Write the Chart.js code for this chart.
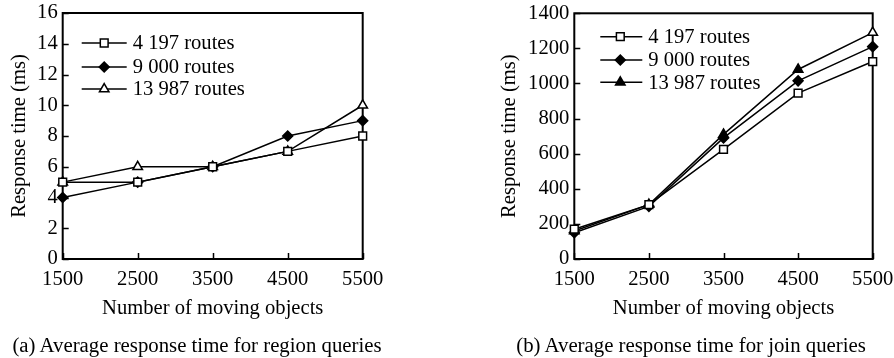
<!DOCTYPE html>
<html>
<head>
<meta charset="utf-8">
<script src="https://cdn.jsdelivr.net/npm/chart.js@4.4.1/dist/chart.umd.min.js"></script>
<style>
    html, body { margin: 0; padding: 0; background: #fff; }
    body { width: 894px; height: 358px; position: relative; overflow: hidden; font-family: 'Liberation Serif', 'Times New Roman', serif; color: #000; }
    .panel { position: absolute; top: 0; width: 447px; height: 358px; }
    .panel canvas { display: block; }
    .caption { position: absolute; top: 333px; font-size: 20.8px; line-height: 24px; white-space: nowrap; transform: translateX(-50%); }
</style>
</head>
<body>
<div class="panel" style="left:0"><canvas id="region-chart" width="447" height="358"></canvas></div>
<div class="panel" style="left:447px"><canvas id="join-chart" width="447" height="358"></canvas></div>
<div class="caption" style="left:197px">(a) Average response time for region queries</div>
<div class="caption" style="left:691px">(b) Average response time for join queries</div>

<script>
// data
const objectCounts = ['1500', '2500', '3500', '4500', '5500'];
const routeLabels = ['4 197 routes', '9 000 routes', '13 987 routes'];

const regionRoutes4197 = [5, 5, 6, 7, 8];
const regionRoutes9000 = [4, 5, 6, 8, 9];
const regionRoutes13987 = [5, 6, 6, 7, 10];
const regionTicks = [0, 2, 4, 6, 8, 10, 12, 14, 16];

const joinRoutes4197 = [170, 310, 625, 945, 1125];
const joinRoutes9000 = [150, 300, 690, 1015, 1210];
const joinRoutes13987 = [160, 310, 710, 1080, 1290];
const joinTicks = [0, 200, 400, 600, 800, 1000, 1200, 1400];

const FONT = "'Liberation Serif', 'Times New Roman', serif";
Chart.defaults.font.family = FONT;
Chart.defaults.font.size = 20.6;
Chart.defaults.color = '#000';

// box round the plot area plus inward tick marks
const framePlugin = {
    id: 'frame',
    beforeDatasetsDraw(chart) {
        const { ctx, chartArea: a, scales } = chart;
        ctx.save();
        ctx.strokeStyle = '#000';
        ctx.lineWidth = 2;
        ctx.strokeRect(a.left, a.top, a.right - a.left, a.bottom - a.top);
        ctx.lineWidth = 1.5;
        ctx.beginPath();
        scales.y.ticks.forEach(t => {
            const y = Math.round(scales.y.getPixelForValue(t.value)) + 0.5;
            ctx.moveTo(a.left, y);
            ctx.lineTo(a.left + 6, y);
        });
        scales.x.ticks.forEach((t, i) => {
            const x = Math.round(scales.x.getPixelForTick(i)) + 0.5;
            ctx.moveTo(x, a.bottom);
            ctx.lineTo(x, a.bottom - 6);
        });
        ctx.stroke();
        ctx.restore();
    }
};

// legend drawn inside the plot: line, marker, label
const innerLegend = {
    id: 'innerLegend',
    afterDraw(chart, args, opts) {
        const { ctx, chartArea: a } = chart;
        ctx.save();
        ctx.font = '20.6px ' + FONT;
        ctx.textBaseline = 'middle';
        chart.data.datasets.forEach((ds, i) => {
            const y = a.top + opts.rows[i];
            ctx.strokeStyle = '#000';
            ctx.lineWidth = 1.5;
            ctx.beginPath();
            ctx.moveTo(a.left + opts.lineFrom, y);
            ctx.lineTo(a.left + opts.lineTo, y);
            ctx.stroke();
            const fill = Array.isArray(ds.pointBackgroundColor) ? ds.pointBackgroundColor[0] : ds.pointBackgroundColor;
            ctx.fillStyle = fill;
            ctx.lineWidth = ds.pointBorderWidth;
            Chart.helpers.drawPoint(ctx, {
                pointStyle: ds.pointStyle,
                radius: ds.pointRadius,
                rotation: 0,
                borderWidth: ds.pointBorderWidth
            }, a.left + opts.marker, y);
            ctx.fillStyle = '#000';
            ctx.fillText(ds.label, a.left + opts.textX, y + 1);
        });
        ctx.restore();
    }
};

function seriesStyle(style, radius, fill) {
    return {
        borderColor: '#000',
        borderWidth: 1.5,
        tension: 0,
        fill: false,
        pointStyle: style,
        pointRadius: radius,
        pointHoverRadius: radius,
        pointBackgroundColor: fill,
        pointBorderColor: '#000',
        pointBorderWidth: 1.5
    };
}

function makeChart(id, cfg) {
    const ctx = document.getElementById(id).getContext('2d');
    return new Chart(ctx, {
        type: 'line',
        data: {
            labels: objectCounts,
            datasets: [
                Object.assign({ label: routeLabels[0], data: cfg.series[0] }, seriesStyle('rect', 5.5, '#fff')),
                Object.assign({ label: routeLabels[1], data: cfg.series[1] }, seriesStyle('rectRot', 5, '#000')),
                Object.assign({ label: routeLabels[2], data: cfg.series[2] }, seriesStyle('triangle', 5.5, cfg.triangleFill))
            ]
        },
        options: {
            responsive: false,
            animation: false,
            layout: { padding: cfg.padding },
            plugins: {
                legend: { display: false },
                tooltip: { enabled: false },
                innerLegend: cfg.legend
            },
            scales: {
                x: {
                    offset: false,
                    grid: { display: false, drawTicks: false },
                    border: { display: false },
                    ticks: { padding: 8, maxRotation: 0, autoSkip: false },
                    title: { display: true, text: 'Number of moving objects', padding: { top: 0, bottom: 4 } },
                    afterFit(scale) {
                        scale.height = 66;
                        scale.paddingLeft = 0;
                        scale.paddingRight = 0;
                    }
                },
                y: {
                    min: 0,
                    max: cfg.ticks[cfg.ticks.length - 1],
                    grid: { display: false, drawTicks: false },
                    border: { display: false },
                    ticks: {
                        padding: 5,
                        stepSize: cfg.ticks[1] - cfg.ticks[0],
                        callback: value => String(value)
                    },
                    title: { display: true, text: 'Response time (ms)', padding: { top: cfg.titlePad, bottom: 0 } },
                    afterFit(scale) {
                        scale.width = cfg.axisWidth;
                        scale.paddingTop = 0;
                        scale.paddingBottom = 0;
                    }
                }
            }
        },
        plugins: [framePlugin, innerLegend]
    });
}

makeChart('region-chart', {
    series: [regionRoutes4197, regionRoutes9000, regionRoutes13987],
    ticks: regionTicks,
    triangleFill: '#fff',
    padding: { left: 0, top: 13, right: 84.3, bottom: 33 },
    axisWidth: 62.7,
    titlePad: 7,
    legend: { lineFrom: 19, lineTo: 64, marker: 41.5, textX: 70, rows: [30, 54, 76] }
});

makeChart('join-chart', {
    series: [joinRoutes4197, joinRoutes9000, joinRoutes13987],
    ticks: joinTicks,
    triangleFill: ['#000', '#000', '#000', '#000', '#fff'],
    padding: { left: 0, top: 13.3, right: 21.3, bottom: 33 },
    axisWidth: 127.3,
    titlePad: 50,
    legend: { lineFrom: 26, lineTo: 68, marker: 46, textX: 74, rows: [23.4, 46.7, 69] }
});
</script>
</body>
</html>
